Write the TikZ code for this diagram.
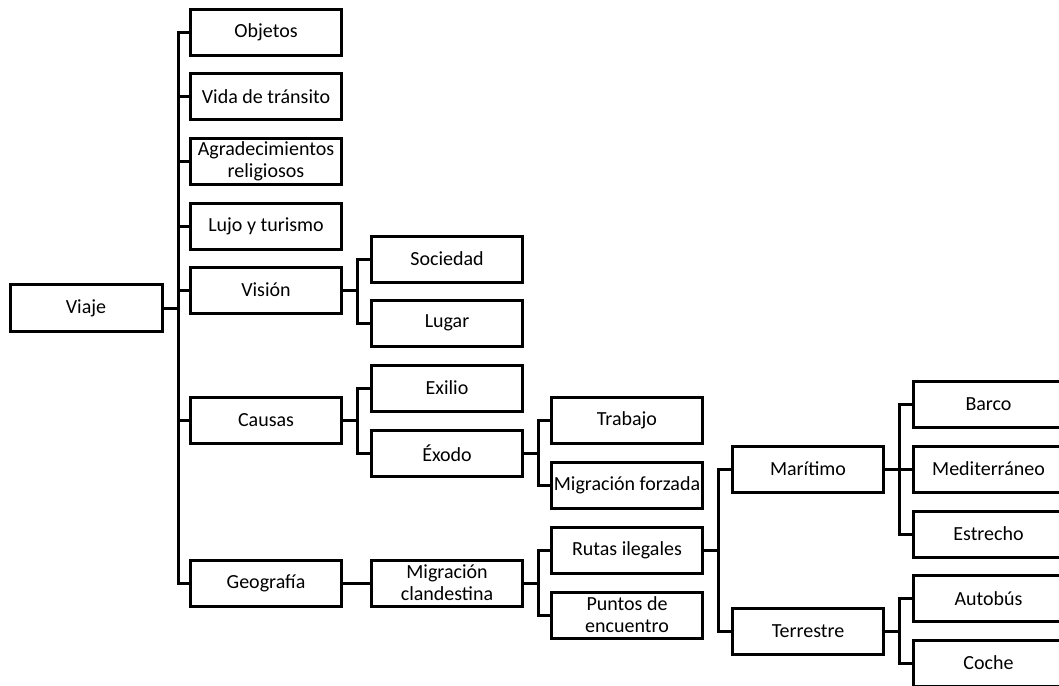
\documentclass[tikz,border=0pt]{standalone}
\usepackage{fontspec}
\setmainfont{Carlito}

\begin{document}
\begin{tikzpicture}[x=1pt,y=-1pt,
  caja/.style={draw,line width=3pt,minimum width=151pt,minimum height=46pt,inner sep=1pt,align=center,font=\fontsize{20}{22}\selectfont},
  enlace/.style={line width=3pt}]
\useasboundingbox[fill=white] (0,0) rectangle (1059,685);
\clip (0,0) rectangle (1059,685);
% raiz
\node[caja,minimum width=152pt,minimum height=47pt] (viaje) at (86,308) {Viaje};
% primer nivel
\node[caja] (obj) at (266,32.5) {Objetos};
\node[caja] (vid) at (266,96.5) {Vida de tránsito};
\node[caja] (agr) at (266,161) {Agradecimientos\\religiosos};
\node[caja] (luj) at (266,226) {Lujo y turismo};
\node[caja] (vis) at (266,290) {Visión};
\node[caja] (cau) at (266,420) {Causas};
\node[caja] (geo) at (266,583) {Geografía};
% segundo nivel
\node[caja] (soc) at (447,259) {Sociedad};
\node[caja] (lug) at (447,323) {Lugar};
\node[caja] (exi) at (447,388) {Exilio};
\node[caja] (exo) at (447,453) {Éxodo};
\node[caja] (mcl) at (447,583) {Migración\\clandestina};
% tercer nivel
\node[caja] (tra) at (627,420) {Trabajo};
\node[caja] (mfo) at (627,485) {Migración forzada};
\node[caja] (rut) at (627,550) {Rutas ilegales};
\node[caja] (pun) at (627,615) {Puntos de\\encuentro};
% cuarto nivel
\node[caja] (mar) at (808,469) {Marítimo};
\node[caja] (ter) at (808,631) {Terrestre};
% quinto nivel
\node[caja] (bar) at (988.5,404.5) {Barco};
\node[caja] (med) at (988.5,469) {Mediterráneo};
\node[caja] (est) at (988.5,534) {Estrecho};
\node[caja] (aut) at (988.5,598.5) {Autobús};
\node[caja] (coc) at (988.5,663) {Coche};
% conectores
\foreach \hijo in {obj,vid,agr,luj,vis,cau,geo}
  \draw[enlace] (viaje.east) -- ++(14.5,0) |- (\hijo.west);
\foreach \padre/\hijo in {vis/soc,vis/lug,cau/exi,cau/exo,exo/tra,exo/mfo,
    mcl/rut,mcl/pun,rut/mar,rut/ter,mar/bar,mar/med,mar/est,ter/aut,ter/coc}
  \draw[enlace] (\padre.east) -- ++(14.5,0) |- (\hijo.west);
\draw[enlace] (geo) -- (mcl);
\end{tikzpicture}
\end{document}
